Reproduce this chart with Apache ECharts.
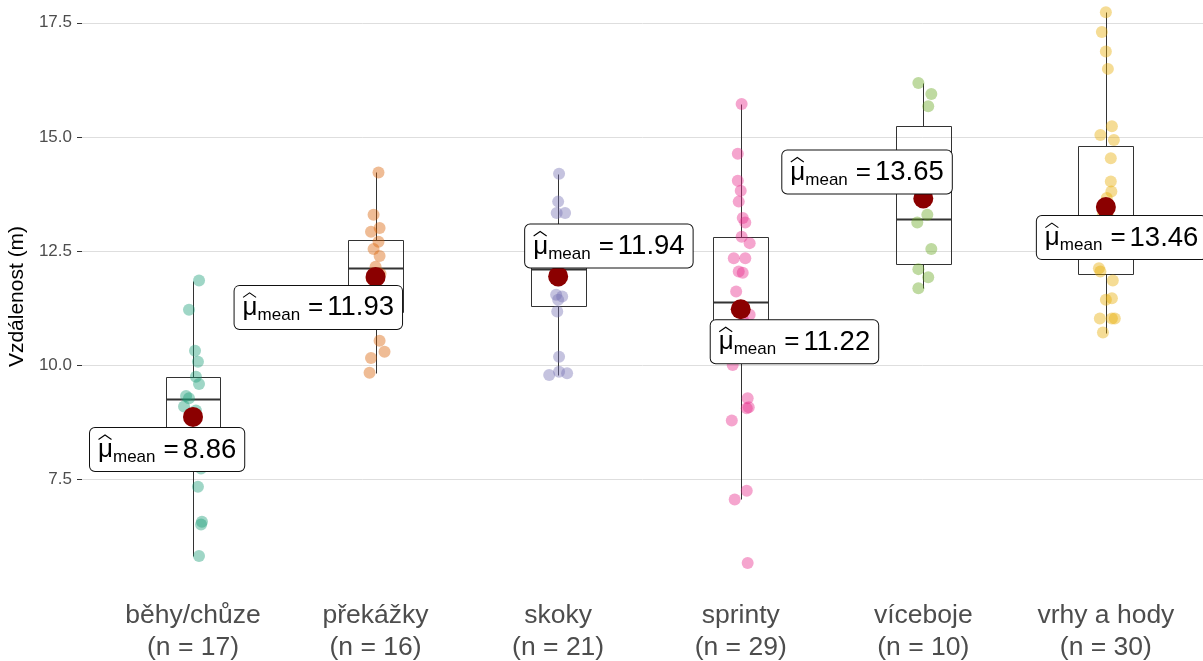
<!DOCTYPE html>
<html><head><meta charset="utf-8">
<script src="https://cdn.jsdelivr.net/npm/echarts@6/dist/echarts.min.js"></script>
<style>html,body{margin:0;padding:0;background:#fff}#c{width:1203px;height:661px}</style>
</head><body><div id="c"></div>
<script>
const categories = ['běhy/chůze', 'překážky', 'skoky', 'sprinty', 'víceboje', 'vrhy a hody'];

const behyValues = [11.85, 11.21, 10.31, 10.07, 9.74, 9.58, 9.32, 9.27, 9.09, 9.0, 8.85, 8.4, 7.73, 7.33, 6.56, 6.5, 5.81];
const behyJitter = [0.033, -0.022, 0.011, 0.027, 0.016, 0.033, -0.038, -0.022, -0.049, 0.016, -0.011, 0.022, 0.044, 0.027, 0.049, 0.044, 0.033];

const prekazkyValues = [14.22, 13.29, 13.0, 12.92, 12.70, 12.54, 12.39, 12.15, 12.0, 11.9, 11.6, 11.4, 10.53, 10.29, 10.15, 9.83];
const prekazkyJitter = [0.016, -0.011, 0.022, -0.025, 0.016, -0.011, 0.022, 0, 0.027, -0.022, 0.016, -0.011, 0.022, 0.049, -0.025, -0.033];

const skokyValues = [14.19, 13.58, 13.33, 13.33, 12.74, 12.7, 12.6, 12.5, 12.4, 12.2, 12.1, 12.0, 11.85, 11.54, 11.5, 11.43, 11.17, 10.18, 9.85, 9.82, 9.78];
const skokyJitter = [0.005, 0, -0.008, 0.038, 0.011, -0.016, 0.022, -0.022, 0.005, 0.016, -0.005, -0.011, 0.005, -0.011, 0.022, 0, -0.005, 0.005, 0.005, 0.049, -0.049];

const sprintyValues = [15.72, 14.63, 14.04, 13.82, 13.58, 13.22, 13.12, 12.81, 12.67, 12.34, 12.34, 12.05, 12.02, 11.61, 11.2, 11.1, 10.95, 10.8, 10.6, 10.45, 10.25, 10.0, 9.27, 9.07, 9.05, 8.78, 7.24, 7.05, 5.66];
const sprintyJitter = [0.005, -0.016, -0.016, 0, -0.011, 0.011, 0.025, 0.005, 0.049, -0.038, 0.025, -0.011, 0.011, -0.025, 0.005, 0.049, 0.016, -0.022, 0.027, -0.005, 0.011, -0.044, 0.038, 0.044, 0.033, -0.049, 0.033, -0.033, 0.038];

const vicebojeValues = [16.18, 15.94, 15.67, 14.06, 13.29, 13.12, 12.54, 12.1, 11.92, 11.68];
const vicebojeJitter = [-0.027, 0.044, 0.027, 0, 0.022, -0.033, 0.044, -0.027, 0.027, -0.027];

const vrhyValues = [17.73, 17.30, 16.87, 16.49, 15.23, 15.04, 14.93, 14.53, 14.02, 13.80, 13.66, 13.5, 13.45, 13.4, 13.3, 13.2, 13.1, 13.0, 12.95, 12.9, 12.8, 12.12, 12.05, 11.85, 11.46, 11.43, 11.02, 11.02, 11.02, 10.71];
const vrhyJitter = [0, -0.022, 0, 0.011, 0.033, -0.030, 0.044, 0.027, 0.027, 0.030, 0.005, -0.011, 0.011, 0, -0.016, 0.022, -0.027, 0.016, -0.033, 0.033, 0.005, -0.038, -0.030, 0.038, 0.033, 0, -0.033, 0.033, 0.049, -0.016];

const means = [8.86, 11.93, 11.94, 11.22, 13.65, 13.46];
const q1 = [7.8, 11.15, 11.3, 10.2, 12.22, 11.99];
const medians = [9.25, 12.12, 12.1, 11.38, 13.2, 12.9];
const q3 = [9.74, 12.74, 12.7, 12.81, 15.23, 14.79];
const whiskerLow = [5.81, 9.83, 9.78, 7.05, 11.68, 10.71];
const whiskerHigh = [11.85, 14.22, 14.19, 15.72, 16.18, 17.73];
const yTicks = [7.5, 10, 12.5, 15, 17.5];

const groupValues = [behyValues, prekazkyValues, skokyValues, sprintyValues, vicebojeValues, vrhyValues];
const groupJitter = [behyJitter, prekazkyJitter, skokyJitter, sprintyJitter, vicebojeJitter, vrhyJitter];
const colors = ['#1B9E77', '#D95F02', '#7570B3', '#E7298A', '#66A61E', '#E6AB02'];
// label placement (pixel offset of the label's top-left corner from the mean point)
const labelOffsets = [[-103, 11], [-141, 9], [-33, -52], [-30, 11], [-141, -48], [-69, 9]];

const FONT = 'Liberation Sans, Arial, sans-serif';
const boxHalf = 0.15;

const chart = echarts.init(document.getElementById('c'), null, {renderer: 'canvas'});

const pointSeries = groupValues.map((vals, g) => ({
  type: 'scatter',
  name: categories[g],
  z: 3,
  symbolSize: 12,
  itemStyle: {color: colors[g], opacity: 0.42},
  data: vals.map((v, k) => [g + groupJitter[g][k], v])
}));

const option = {
  animation: false,
  backgroundColor: '#fff',
  grid: {left: 82, right: 0, top: 0, bottom: 68, containLabel: false, outerBoundsMode: 'none'},
  xAxis: {
    type: 'value', min: -0.608, max: 5.532,
    axisLine: {show: false, onZero: false}, axisTick: {show: false}, splitLine: {show: false},
    axisLabel: {
      customValues: categories.map((c, i) => i),
      formatter: v => { const i = Math.round(v); return categories[i] + '\n(n = ' + groupValues[i].length + ')'; },
      fontFamily: FONT, fontSize: 26.5, lineHeight: 32, color: '#4D4D4D', margin: 7
    }
  },
  yAxis: {
    type: 'value', min: 5, max: 18, interval: 2.5,
    name: 'Vzdálenost (m)', nameLocation: 'middle', nameGap: 47,
    nameTextStyle: {fontFamily: FONT, fontSize: 21, color: '#000'},
    axisLine: {show: false, onZero: false},
    axisTick: {show: true, length: 5, customValues: yTicks, lineStyle: {color: '#333'}},
    axisLabel: {customValues: yTicks, formatter: v => v.toFixed(1), fontFamily: FONT, fontSize: 17, color: '#4D4D4D', margin: 10},
    splitLine: {show: true, lineStyle: {color: '#DEDEDE', width: 1}}
  },
  series: [
    {
      type: 'custom',
      z: 2,
      encode: {x: 0, y: 1},
      data: categories.map((c, i) => [i, q1[i], medians[i], q3[i], whiskerLow[i], whiskerHigh[i]]),
      renderItem: (params, api) => {
        const i = api.value(0);
        const xc = Math.round(api.coord([i, 5])[0]) + 0.5;
        const xl = Math.round(api.coord([i - boxHalf, 5])[0]) + 0.5;
        const xr = Math.round(api.coord([i + boxHalf, 5])[0]) + 0.5;
        const y = v => Math.round(api.coord([i, v])[1]) + 0.5;
        const yq1 = y(api.value(1)), ymed = y(api.value(2)), yq3 = y(api.value(3)), ylo = y(api.value(4)), yhi = y(api.value(5));
        const st = {stroke: '#333', lineWidth: 1, fill: null};
        return {type: 'group', children: [
          {type: 'line', shape: {x1: xc, y1: yhi, x2: xc, y2: yq3}, style: st},
          {type: 'line', shape: {x1: xc, y1: yq1, x2: xc, y2: ylo}, style: st},
          {type: 'rect', shape: {x: xl, y: yq3, width: xr - xl, height: yq1 - yq3}, style: {stroke: '#333', lineWidth: 1, fill: 'rgba(255,255,255,0)'}},
          {type: 'line', shape: {x1: xl, y1: ymed, x2: xr, y2: ymed}, style: {stroke: '#333', lineWidth: 2}}
        ]};
      }
    },
    ...pointSeries,
    {
      type: 'scatter',
      z: 5,
      symbolSize: 20,
      itemStyle: {color: '#8B0000', opacity: 1},
      data: means.map((m, i) => ({value: [i, m], label: {offset: labelOffsets[i]}})),
      label: {
        show: true, position: 'inside', align: 'left', verticalAlign: 'top',
        backgroundColor: '#fff', borderColor: '#111', borderWidth: 1, borderRadius: 5,
        padding: [6, 8, 5, 8], color: '#000',
        formatter: p => '{mu|μ}{sub|mean}{eq|=}{num|' + p.value[1].toFixed(2) + '}',
        rich: {
          mu: {fontFamily: FONT, fontSize: 26, color: '#000', lineHeight: 32},
          sub: {fontFamily: FONT, fontSize: 17, color: '#000', verticalAlign: 'bottom', lineHeight: 18},
          eq: {fontFamily: FONT, fontSize: 26, color: '#000', lineHeight: 32, padding: [0, 4, 0, 8]},
          num: {fontFamily: FONT, fontSize: 27.5, color: '#000', lineHeight: 32}
        }
      }
    },
    {
      // hat over the mu symbol of each mean label
      type: 'custom',
      z: 10,
      encode: {x: 0, y: 1},
      data: means.map((m, i) => [i, m]),
      renderItem: (params, api) => {
        const i = params.dataIndex;
        const c = api.coord([api.value(0), api.value(1)]);
        const hx = c[0] + labelOffsets[i][0] + 15;
        const hy = c[1] + labelOffsets[i][1] + 7;
        return {type: 'polyline', z2: 100,
          shape: {points: [[hx - 6.5, hy + 4.5], [hx, hy], [hx + 6.5, hy + 4.5]]},
          style: {stroke: '#000', lineWidth: 1.1, fill: null}};
      }
    }
  ]
};
chart.setOption(option);
</script>
</body></html>
